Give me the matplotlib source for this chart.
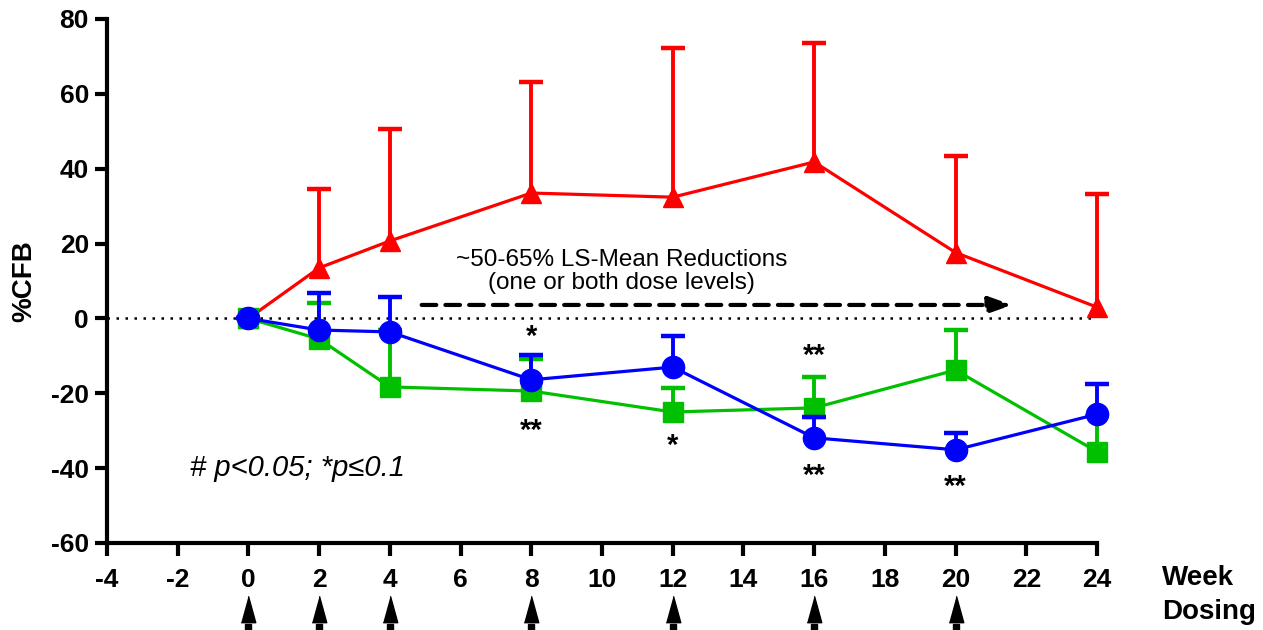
import matplotlib
matplotlib.use("Agg")
import matplotlib.pyplot as plt
import matplotlib.transforms as mtransforms
import numpy as np

plt.rcParams['font.family'] = ['Liberation Sans', 'DejaVu Sans']
plt.rcParams['axes.unicode_minus'] = False

weeks = [0, 2, 4, 8, 12, 16, 20, 24]
red_mean = [0, 13.5, 20.7, 33.5, 32.4, 41.8, 17.6, 3.0]
red_upper = [0, 34.6, 50.5, 63.2, 72.2, 73.6, 43.4, 33.2]
green_mean = [0, -5.5, -18.3, -19.4, -25.0, -23.9, -13.8, -35.6]
green_upper = [0, 4.2, -3.0, -10.9, -18.5, -15.7, -3.1, -26.0]
blue_mean = [0, -3.1, -3.6, -16.4, -13.0, -31.9, -35.1, -25.6]
blue_upper = [0, 6.9, 5.8, -9.8, -4.6, -26.4, -30.5, -17.5]
dosing_weeks = [0, 2, 4, 8, 12, 16, 20]
xticks = list(range(-4, 25, 2))
yticks = list(range(-60, 81, 20))

# significance annotations: (x, y, text)
sig_marks = [(8, -5, "*"), (8, -30, "**"), (12, -34, "*"), (16, -10, "**"),
             (16, -42, "**"), (20, -45, "**")]

fig = plt.figure(figsize=(12.63, 6.30), dpi=100)
ax = fig.add_axes([107/1263, 1-543/630, 990/1263, 524/630])

ax.set_xlim(-4, 24)
ax.set_ylim(-60, 80)

# zero dotted line
ax.plot([-4, 24], [0, 0], color='black', linestyle=(0, (1, 2.6)), lw=1.8, zorder=1)

series = [
    (red_mean, red_upper, '#FF0000', '^', 15),
    (green_mean, green_upper, '#00C000', 's', 15),
    (blue_mean, blue_upper, '#0000FF', 'o', 16),
]
for i, (m, u, c, mk, ms) in enumerate(series):
    z = 3 + i
    ax.vlines(weeks, m, u, color=c, lw=2.8, zorder=z, clip_on=False)
    ax.plot(weeks, u, linestyle='none', marker='_', markersize=17, markeredgewidth=3.2,
            color=c, zorder=z, clip_on=False)
    ax.plot(weeks, m, color=c, lw=2.3, marker=mk, markersize=ms, zorder=z, clip_on=False)

for x, y, t in sig_marks:
    ax.text(x, y, t, ha='center', va='center', fontsize=21, fontweight='bold')

# dashed arrow
ax.annotate("", xy=(21.6, 3.6), xytext=(4.9, 3.6),
            arrowprops=dict(arrowstyle='-|>,head_length=1.4,head_width=0.5', color='black',
                            lw=3, linestyle=(0, (3.5, 2.2)), shrinkA=0, shrinkB=0))
ax.text(10.55, 12.5, "~50-65% LS-Mean Reductions\n(one or both dose levels)",
        ha='center', va='center', fontsize=17.5, linespacing=1.1)

ax.text(1.39, -40, "# p<0.05; *p≤0.1", ha='center', va='center', fontsize=21,
        style='italic')

# spines
for s in ['top', 'right']:
    ax.spines[s].set_visible(False)
for s in ['left', 'bottom']:
    ax.spines[s].set_linewidth(3)
ax.set_xticks(xticks)
ax.set_yticks(yticks)
ax.tick_params(axis='both', width=3, length=9, labelsize=19)
ax.tick_params(axis='x', pad=9)
ax.tick_params(axis='y', pad=4)
for lbl in ax.get_xticklabels() + ax.get_yticklabels():
    lbl.set_fontweight('bold')
ax.set_ylabel("%CFB", fontsize=20, fontweight='bold', labelpad=10)

# dosing arrows
trans = mtransforms.blended_transform_factory(ax.transData, ax.transAxes)
tri = [(-0.55, -1), (0.55, -1), (0, 1)]
for d in dosing_weeks:
    ax.plot([d], [-0.125], marker=tri, markersize=19, color='black', transform=trans,
            clip_on=False, lw=0)
    ax.plot([d], [-0.16], marker='s', markersize=4, color='black', transform=trans,
            clip_on=False, lw=0)

fig.text(1162/1263, 1-578/630, "Week", ha='left', va='center', fontsize=20,
         fontweight='bold')
fig.text(1162/1263, 1-612/630, "Dosing", ha='left', va='center', fontsize=20,
         fontweight='bold')

fig.savefig("out.png", dpi=100)
